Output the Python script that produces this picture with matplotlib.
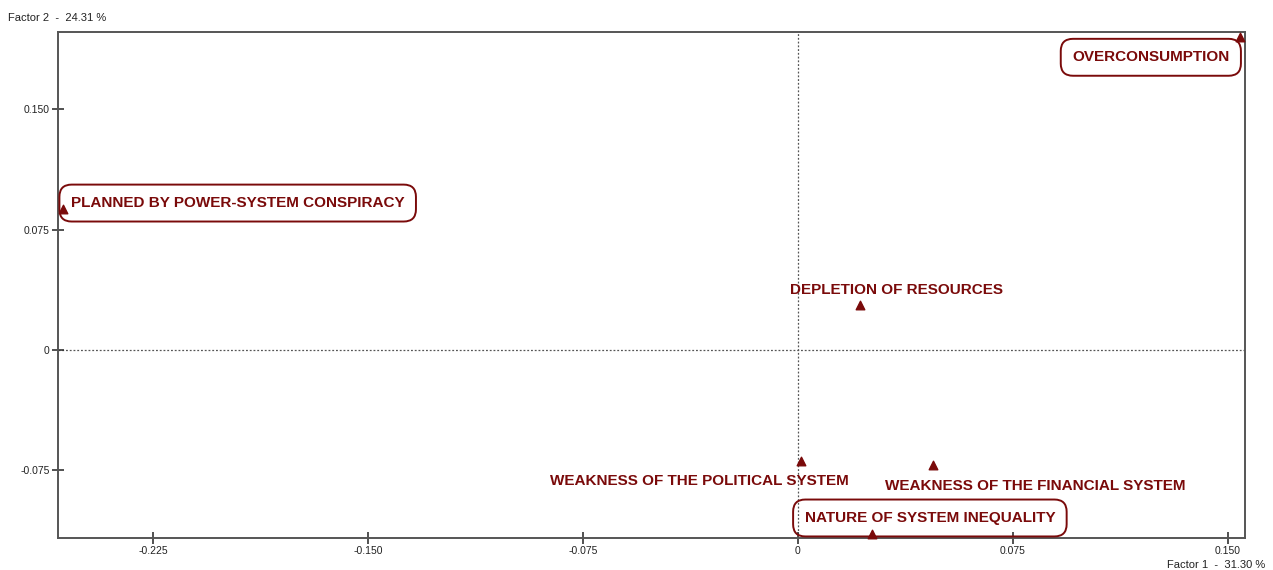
import matplotlib
matplotlib.use("Agg")
import matplotlib.pyplot as plt

plt.rcParams['font.family'] = ['Liberation Sans', 'DejaVu Sans']

labels = ["OVERCONSUMPTION", "PLANNED BY POWER-SYSTEM CONSPIRACY", "DEPLETION OF RESOURCES",
          "WEAKNESS OF THE POLITICAL SYSTEM", "WEAKNESS OF THE FINANCIAL SYSTEM",
          "NATURE OF SYSTEM INEQUALITY"]
factor1 = [0.1542, -0.2565, 0.0216, 0.0010, 0.0471, 0.0258]
factor2 = [0.1950, 0.0879, 0.0281, -0.0692, -0.0717, -0.1147]
boxed = [True, True, False, False, False, True]
xticks = [-0.225, -0.150, -0.075, 0, 0.075, 0.150]
yticks = [-0.075, 0, 0.075, 0.150]
xticklabels = ["-0.225", "-0.150", "-0.075", "0", "0.075", "0.150"]
yticklabels = ["-0.075", "0", "0.075", "0.150"]

# label offsets in pixels (style), with alignment
offsets = [(-89, -20, 'center'), (8, 6, 'left'), (37, 15, 'center'),
           (-101, -20, 'center'), (102, -21, 'center'), (58, 16, 'center')]

color = '#7a0a0a'
fig = plt.figure(figsize=(12.73, 5.70), dpi=100)
ax = fig.add_axes([58/1273, 1-538/570, (1245-58)/1273, (538-32)/570])
ax.set_xlim(-0.2582, 0.1560)
ax.set_ylim(-0.1172, 0.1983)

ax.axhline(0, color='#555555', lw=0.9, ls=(0, (1.5, 1.5)), zorder=1)
ax.axvline(0, color='#555555', lw=0.9, ls=(0, (1.5, 1.5)), zorder=1)

ax.scatter(factor1, factor2, marker='^', s=38, color=color, zorder=3, clip_on=False)
for lab, x, y, b, (dx, dy, ha) in zip(labels, factor1, factor2, boxed, offsets):
    kw = {}
    if b:
        kw['bbox'] = dict(boxstyle='round,pad=0.75,rounding_size=0.8', fc='none', ec=color, lw=1.4)
    ax.annotate(lab, (x, y), xytext=(dx, dy), textcoords='offset pixels',
                ha=ha, va='center', fontsize=11, fontweight='bold', color=color,
                zorder=4, annotation_clip=False, **kw)

ax.set_xticks(xticks)
ax.set_xticklabels(xticklabels)
ax.set_yticks(yticks)
ax.set_yticklabels(yticklabels)
ax.tick_params(direction='inout', length=8, width=1.2, colors='#333333', labelsize=7.5,
               labelcolor='#222222', pad=2)
for s in ax.spines.values():
    s.set_color('#555555')
    s.set_linewidth(1.4)

fig.text(8/1273, 1-18/570, "Factor 2  -  24.31 %", fontsize=8, color='#222222', va='center', ha='left')
fig.text(1265/1273, 1-565/570, "Factor 1  -  31.30 %", fontsize=8, color='#222222', va='center', ha='right')

fig.savefig('out.png', dpi=100)
